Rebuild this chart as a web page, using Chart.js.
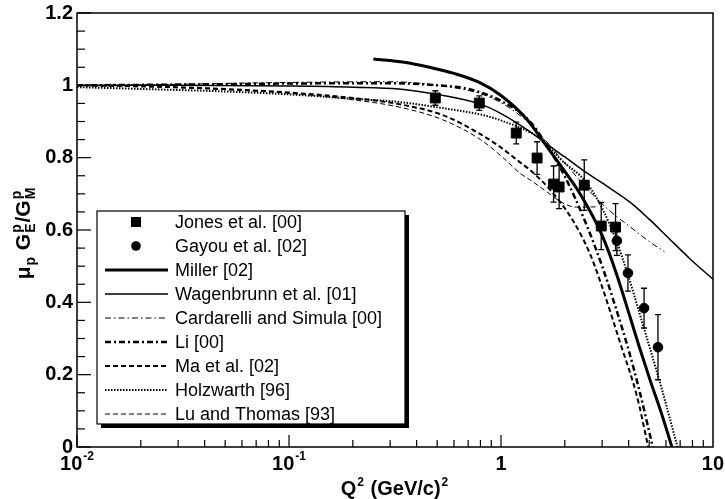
<!DOCTYPE html>
<html>
<head>
<meta charset="utf-8">
<script src="https://cdn.jsdelivr.net/npm/chart.js@4.4.1/dist/chart.umd.min.js"></script>
<style>
  html, body { margin: 0; padding: 0; background: #fff; }
</style>
</head>
<body>
<canvas id="ratioChart" width="725" height="499"></canvas>
<script>
// Q^2 in (GeV/c)^2, ratio mu_p GE/GM
const jonesQ2 = [0.49, 0.79, 1.18, 1.48, 1.77, 1.88, 2.47, 2.97, 3.47];
const jonesR = [0.965, 0.951, 0.868, 0.799, 0.727, 0.719, 0.724, 0.611, 0.608];
const jonesErr = [0.02, 0.02, 0.03, 0.045, 0.05, 0.06, 0.07, 0.065, 0.065];

const gayouQ2 = [3.52, 3.97, 4.73, 5.5];
const gayouR = [0.57, 0.481, 0.384, 0.276];
const gayouErr = [0.04, 0.05, 0.055, 0.09];

const millerQ2 = [0.25, 0.35, 0.46, 0.6, 0.79, 1.0, 1.33, 1.58, 2.0, 2.36, 3.0, 3.5, 4.06, 4.5, 5.05, 5.7, 6.4];
const millerR = [1.073, 1.064, 1.05, 1.033, 1.008, 0.972, 0.905, 0.845, 0.762, 0.70, 0.585, 0.48, 0.36, 0.275, 0.185, 0.095, 0.0];

const wagQ2 = [0.01, 0.03, 0.1, 0.2, 0.33, 0.5, 0.8, 1.0, 1.37, 1.58, 2.0, 2.55, 3.0, 4.1, 5.0, 6.0, 7.8, 10];
const wagR = [1.0, 1.0, 0.998, 0.995, 0.99, 0.975, 0.948, 0.922, 0.872, 0.845, 0.802, 0.757, 0.73, 0.675, 0.63, 0.585, 0.52, 0.464];

const cardQ2 = [0.01, 0.03, 0.1, 0.3, 0.5, 0.8, 1.0, 1.3, 1.58, 2.0, 2.5, 3.0, 3.5, 4.0, 5.0, 5.9];
const cardR = [1.0, 1.003, 1.008, 1.01, 1.0, 0.977, 0.952, 0.905, 0.855, 0.785, 0.72, 0.672, 0.638, 0.612, 0.568, 0.54];

const liQ2 = [0.01, 0.03, 0.1, 0.3, 0.5, 0.7, 1.0, 1.37, 1.58, 2.0, 2.5, 3.0, 3.5, 4.0, 4.5, 5.2];
const liR = [1.0, 1.002, 1.005, 1.006, 1.0, 0.99, 0.957, 0.9, 0.85, 0.748, 0.622, 0.5, 0.38, 0.268, 0.155, 0.0];

const maQ2 = [0.01, 0.03, 0.1, 0.2, 0.33, 0.53, 0.8, 1.0, 1.23, 1.37, 1.7, 2.18, 2.62, 2.93, 3.64, 4.38, 4.95];
const maR = [1.0, 0.995, 0.98, 0.965, 0.948, 0.918, 0.865, 0.828, 0.787, 0.766, 0.712, 0.627, 0.536, 0.46, 0.29, 0.14, 0.0];

const holzQ2 = [0.01, 0.02, 0.05, 0.1, 0.2, 0.33, 0.53, 0.82, 1.0, 1.37, 1.58, 1.9, 2.54, 3.0, 3.5, 4.0, 4.5, 5.0, 5.8, 6.8];
const holzR = [0.995, 0.99, 0.983, 0.975, 0.963, 0.954, 0.937, 0.918, 0.903, 0.87, 0.847, 0.797, 0.73, 0.66, 0.57, 0.47, 0.37, 0.28, 0.15, 0.0];

const luQ2 = [0.01, 0.03, 0.1, 0.2, 0.33, 0.53, 0.8, 1.0, 1.23, 1.4, 1.65, 1.94, 2.27, 2.8];
const luR = [1.0, 0.993, 0.978, 0.96, 0.94, 0.905, 0.85, 0.805, 0.757, 0.735, 0.705, 0.676, 0.663, 0.664];

const yTicks = [0, 0.2, 0.4, 0.6, 0.8, 1, 1.2];
const yTickLabels = ["0", "0.2", "0.4", "0.6", "0.8", "1", "1.2"];
const xDecades = [0.01, 0.1, 1, 10];
const xDecadeLabels = [["10", "-2"], ["10", "-1"], ["1", ""], ["10", ""]];

const FONT = "'Liberation Sans', Arial, sans-serif";
const pts = (xs, ys) => xs.map((v, i) => ({ x: v, y: ys[i] }));

function curve(label, xs, ys, width, dash) {
  return {
    label: label,
    data: pts(xs, ys),
    showLine: true,
    borderColor: "#000",
    borderWidth: width,
    borderDash: dash,
    pointRadius: 0,
    cubicInterpolationMode: "monotone",
    fill: false,
  };
}

const datasets = [
  { label: "Jones et al. [00]", data: pts(jonesQ2, jonesR), err: jonesErr,
    pointStyle: "rect", pointRadius: 7, backgroundColor: "#000", borderColor: "#000", showLine: false },
  { label: "Gayou et al. [02]", data: pts(gayouQ2, gayouR), err: gayouErr,
    pointStyle: "circle", pointRadius: 4.8, backgroundColor: "#000", borderColor: "#000", showLine: false },
  curve("Miller [02]", millerQ2, millerR, 3, []),
  curve("Wagenbrunn et al. [01]", wagQ2, wagR, 1.5, []),
  curve("Cardarelli and Simula [00]", cardQ2, cardR, 1, [6, 3, 1.5, 3]),
  curve("Li [00]", liQ2, liR, 2.5, [6, 3, 2, 3]),
  curve("Ma et al. [02]", maQ2, maR, 2, [5, 3]),
  curve("Holzwarth [96]", holzQ2, holzR, 2, [1.5, 1.5]),
  curve("Lu and Thomas [93]", luQ2, luR, 1, [5, 3]),
];

// text pieces with sub/superscripts along one baseline
function richText(ctx, parts, x, y, big, small) {
  let cx = x;
  parts.forEach(p => {
    if (p.sup !== undefined || p.sub !== undefined) {
      ctx.font = "bold " + small + "px " + FONT;
      const w = Math.max(ctx.measureText(p.sup || "").width, ctx.measureText(p.sub || "").width);
      if (p.sup) ctx.fillText(p.sup, cx + 1, y - big * 0.45);
      if (p.sub) ctx.fillText(p.sub, cx + 1, y + big * 0.25);
      cx += w + 2;
    } else {
      ctx.font = "bold " + big + "px " + FONT;
      ctx.fillText(p.t, cx, y);
      cx += ctx.measureText(p.t).width;
    }
  });
  return cx - x;
}

function measureRich(ctx, parts, big, small) {
  ctx.save();
  ctx.globalAlpha = 0;
  const w = richText(ctx, parts, -1000, -1000, big, small);
  ctx.restore();
  return w;
}

const axesPlugin = {
  id: "axesPlugin",
  afterDatasetsDraw(chart) {
    const { ctx, chartArea: a, scales: { x, y } } = chart;
    ctx.save();
    ctx.strokeStyle = "#000";
    ctx.fillStyle = "#000";
    ctx.setLineDash([]);

    // error bars
    ctx.lineWidth = 1.3;
    chart.data.datasets.forEach(ds => {
      if (!ds.err) return;
      ds.data.forEach((p, i) => {
        const px = x.getPixelForValue(p.x);
        const top = y.getPixelForValue(p.y + ds.err[i]);
        const bot = y.getPixelForValue(p.y - ds.err[i]);
        ctx.beginPath();
        ctx.moveTo(px, top); ctx.lineTo(px, bot);
        ctx.moveTo(px - 3, top); ctx.lineTo(px + 3, top);
        ctx.moveTo(px - 3, bot); ctx.lineTo(px + 3, bot);
        ctx.stroke();
      });
    });

    // frame
    ctx.lineWidth = 1.5;
    ctx.strokeRect(a.left, a.top, a.right - a.left, a.bottom - a.top);

    // y ticks, inward, minor every 0.05
    ctx.lineWidth = 1.2;
    for (let k = 0; k <= 24; k++) {
      const py = y.getPixelForValue(k * 0.05);
      const len = k % 4 === 0 ? 14 : 8;
      ctx.beginPath(); ctx.moveTo(a.left, py); ctx.lineTo(a.left + len, py); ctx.stroke();
    }
    // x ticks, inward
    xDecades.slice(0, 3).forEach(d => {
      for (let m = 1; m <= 9; m++) {
        const px = x.getPixelForValue(d * m);
        const len = m === 1 ? 12 : 7;
        ctx.beginPath(); ctx.moveTo(px, a.bottom); ctx.lineTo(px, a.bottom - len); ctx.stroke();
      }
    });

    // y tick labels
    ctx.font = "bold 20px " + FONT;
    ctx.textAlign = "right";
    ctx.textBaseline = "middle";
    yTicks.forEach((v, i) => ctx.fillText(yTickLabels[i], a.left - 4, y.getPixelForValue(v)));

    // x tick labels
    ctx.textAlign = "left";
    ctx.textBaseline = "alphabetic";
    xDecades.forEach((d, i) => {
      const [base, exp] = xDecadeLabels[i];
      ctx.font = "bold 20px " + FONT;
      const bw = ctx.measureText(base).width;
      ctx.font = "bold 12px " + FONT;
      const ew = exp ? ctx.measureText(exp).width + 1 : 0;
      let px = x.getPixelForValue(d) - (bw + ew) / 2;
      px = Math.min(px, chart.width - bw - ew - 1);
      const by = a.bottom + 23;
      ctx.font = "bold 20px " + FONT;
      ctx.fillText(base, px, by);
      if (exp) {
        ctx.font = "bold 12px " + FONT;
        ctx.fillText(exp, px + bw + 1, by - 10);
      }
    });

    // x title
    const xTitle = [{ t: "Q" }, { sup: "2" }, { t: " (GeV/c)" }, { sup: "2" }];
    const xw = measureRich(ctx, xTitle, 20, 12);
    richText(ctx, xTitle, 395 - xw / 2, a.bottom + 48, 20, 12);

    // y title, rotated
    const yTitle = [{ t: "\u03bc" }, { sub: "p" }, { t: " G" }, { sup: "p", sub: "E" }, { t: "/G" }, { sup: "p", sub: "M" }];
    const yw = measureRich(ctx, yTitle, 21, 14);
    ctx.save();
    ctx.translate(30, 233);
    ctx.rotate(-Math.PI / 2);
    richText(ctx, yTitle, -yw / 2, 0, 21, 14);
    ctx.restore();

    // legend box with shadow
    const lx = 97, ly = 211, lw = 308, lh = 213, row = 24;
    ctx.fillRect(lx + 4, ly + 4, lw, lh);
    ctx.fillStyle = "#fff";
    ctx.fillRect(lx, ly, lw, lh);
    ctx.fillStyle = "#000";
    ctx.lineWidth = 1.2;
    ctx.strokeRect(lx, ly, lw, lh);

    ctx.font = "18px " + FONT;
    ctx.textBaseline = "middle";
    chart.data.datasets.forEach((ds, i) => {
      const ry = ly + 11 + i * row;
      if (ds.showLine) {
        ctx.save();
        ctx.lineWidth = ds.borderWidth;
        ctx.setLineDash(ds.borderDash || []);
        ctx.beginPath(); ctx.moveTo(lx + 8, ry); ctx.lineTo(lx + 71, ry); ctx.stroke();
        ctx.restore();
      } else if (ds.pointStyle === "rect") {
        ctx.fillRect(lx + 34, ry - 5, 10, 10);
      } else {
        ctx.beginPath(); ctx.arc(lx + 39, ry, 4.8, 0, Math.PI * 2); ctx.fill();
      }
      ctx.fillText(ds.label, lx + 78, ry + 1);
    });
    ctx.restore();
  },
};

new Chart(document.getElementById("ratioChart"), {
  type: "scatter",
  data: { datasets: datasets },
  options: {
    responsive: false,
    animation: false,
    layout: { padding: { left: 77, right: 12, top: 13, bottom: 52 } },
    plugins: { legend: { display: false }, tooltip: { enabled: false } },
    scales: {
      x: { type: "logarithmic", min: 0.01, max: 10, display: false },
      y: { type: "linear", min: 0, max: 1.2, display: false },
    },
  },
  plugins: [axesPlugin],
});
</script>
</body>
</html>
